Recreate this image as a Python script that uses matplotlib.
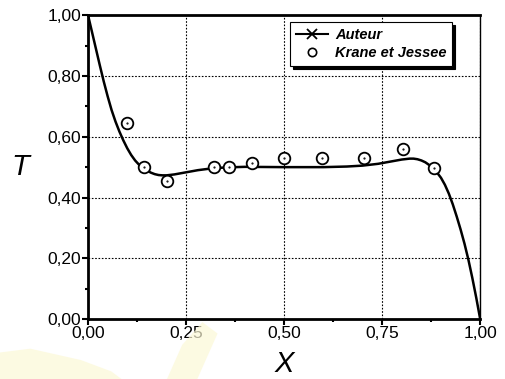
import matplotlib
matplotlib.use("Agg")
import matplotlib.pyplot as plt
from matplotlib.patches import Polygon
from matplotlib.lines import Line2D
from matplotlib.ticker import MultipleLocator, FuncFormatter

# Data
curve_x = [0.00, 0.01, 0.02, 0.03, 0.04, 0.05, 0.06, 0.07, 0.08, 0.09, 0.10,
           0.11, 0.12, 0.13, 0.14, 0.15, 0.16, 0.17, 0.18, 0.19, 0.20, 0.22,
           0.25, 0.28, 0.31, 0.35, 0.40, 0.50, 0.60, 0.66, 0.70, 0.74, 0.77,
           0.80, 0.82, 0.83, 0.84, 0.85, 0.86, 0.87, 0.88, 0.89, 0.90, 0.91,
           0.92, 0.93, 0.94, 0.95, 0.96, 0.97, 0.98, 0.99, 1.00]
curve_y = [1.000, 0.945, 0.890, 0.835, 0.782, 0.733, 0.688, 0.650, 0.617, 0.588, 0.562,
           0.540, 0.522, 0.508, 0.497, 0.489, 0.482, 0.477, 0.474, 0.473, 0.473, 0.476,
           0.483, 0.490, 0.495, 0.499, 0.501, 0.500, 0.500, 0.502, 0.505, 0.511, 0.518,
           0.525, 0.528, 0.528, 0.526, 0.522, 0.516, 0.507, 0.496, 0.482, 0.465, 0.442,
           0.413, 0.378, 0.338, 0.295, 0.248, 0.195, 0.135, 0.070, 0.000]

kj_x = [0.099, 0.143, 0.202, 0.320, 0.359, 0.418, 0.500, 0.597, 0.704, 0.803, 0.881]
kj_y = [0.645, 0.500, 0.456, 0.500, 0.500, 0.513, 0.531, 0.531, 0.531, 0.559, 0.498]

x_ticks = [0.0, 0.25, 0.5, 0.75, 1.0]
y_ticks = [0.0, 0.2, 0.4, 0.6, 0.8, 1.0]

plt.rcParams['font.family'] = ['Liberation Sans', 'DejaVu Sans']

fig = plt.figure(figsize=(5.06, 3.79), dpi=100)
fig.patch.set_facecolor('white')

# faint yellow watermark at the bottom
wm_color = '#fcf8d6'
fig.patches.append(Polygon([[0.0, 0.0], [0.0, 0.07], [0.06, 0.08], [0.16, 0.05],
                            [0.22, 0.02], [0.24, 0.0]], closed=True,
                           transform=fig.transFigure, facecolor=wm_color,
                           edgecolor='none', alpha=0.7, zorder=0))
fig.patches.append(Polygon([[0.33, 0.0], [0.36, 0.09], [0.40, 0.15], [0.43, 0.12],
                            [0.39, 0.0]], closed=True,
                           transform=fig.transFigure, facecolor=wm_color,
                           edgecolor='none', alpha=0.7, zorder=0))

ax = fig.add_axes([0.174, 0.158, 0.775, 0.802])
ax.set_facecolor('none')

ax.plot(curve_x, curve_y, color='black', lw=1.8, zorder=3, solid_joinstyle='round')
ax.scatter(kj_x, kj_y, s=70, facecolor='white', edgecolor='black', linewidth=1.3, zorder=4)
ax.scatter(kj_x, kj_y, s=0.3, color='black', zorder=5)

ax.set_xlim(0, 1)
ax.set_ylim(0, 1)
ax.set_xticks(x_ticks)
ax.set_yticks(y_ticks)
ax.xaxis.set_minor_locator(MultipleLocator(0.125))
ax.yaxis.set_minor_locator(MultipleLocator(0.1))
fmt = FuncFormatter(lambda v, p: f"{v:.2f}".replace('.', ','))
ax.xaxis.set_major_formatter(fmt)
ax.yaxis.set_major_formatter(fmt)
ax.tick_params(axis='both', which='major', direction='out', length=4, width=1.5,
               labelsize=12.5, pad=1)
ax.tick_params(axis='both', which='minor', direction='out', length=2, width=1.5)
ax.tick_params(top=False, right=False)

ax.grid(True, which='major', linestyle=(0, (1.5, 1.5)), color='black', lw=0.8)

for s in ['left', 'bottom', 'top']:
    ax.spines[s].set_linewidth(2)
ax.spines['right'].set_linewidth(1)

ax.set_xlabel('X', fontsize=21, style='italic', va='center')
ax.xaxis.set_label_coords(0.5, -0.148)
ax.set_ylabel('T', fontsize=21, style='italic', rotation=0, va='center')
ax.yaxis.set_label_coords(-0.173, 0.5)

# Legend with shadow
handles = [Line2D([0], [0], color='black', lw=1.5, marker='x', markersize=7,
                  markeredgewidth=1.3),
           Line2D([0], [0], color='black', lw=0, marker='o', markersize=6,
                  markerfacecolor='white', markeredgewidth=1.2)]
leg = ax.legend(handles, ['Auteur', 'Krane et Jessee'], loc='upper right',
                bbox_to_anchor=(0.929, 0.977), borderaxespad=0, fancybox=False,
                shadow={'color': 'black', 'alpha': 1},
                framealpha=1, edgecolor='black',
                prop={'size': 10.5, 'weight': 'bold', 'style': 'italic'},
                handlelength=2.2, borderpad=0.4, labelspacing=0.3, handletextpad=0.5)
leg.get_frame().set_linewidth(0.8)
leg.set_zorder(10)

fig.savefig('out.png', dpi=100)
